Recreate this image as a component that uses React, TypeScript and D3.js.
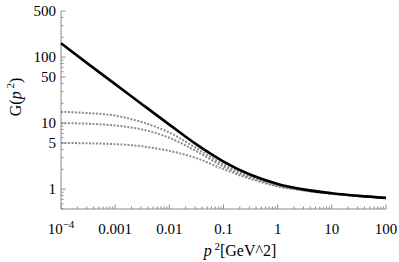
import React from "react";
import * as d3 from "d3";

const logP = [-4, -3.5, -3, -2.5, -2, -1.5, -1, -0.5, 0, 0.5, 1, 1.5, 2];
const gBlack = [162, 79, 39, 19.2, 9.5, 4.76, 2.62, 1.65, 1.2, 0.984, 0.867, 0.79, 0.738];
const gDot15 = [14.8, 14.2, 13.0, 10.3, 7.2, 4.17, 2.37, 1.57, 1.15, 0.966, 0.859, 0.787, 0.736];
const gDot10 = [10, 9.8, 9.2, 8.0, 6.0, 3.75, 2.2, 1.5, 1.12, 0.955, 0.855, 0.785, 0.736];
const gDot5 = [5.0, 4.95, 4.8, 4.45, 3.8, 2.95, 2.0, 1.43, 1.1, 0.944, 0.851, 0.783, 0.736];
const xTicks = [1e-4, 1e-3, 1e-2, 1e-1, 1, 10, 100];
const xTickLabels = ["10", "0.001", "0.01", "0.1", "1", "10", "100"];
const yTicks = [1, 5, 10, 50, 100, 500];
const yTickLabels = ["1", "5", "10", "50", "100", "500"];

const W = 399, H = 262;
const x = d3.scaleLog().domain([1e-4, 100]).range([61, 386]);
const y = d3.scaleLog().domain([0.5, 500]).range([209, 11]);

const line = d3
  .line<[number, number]>()
  .x((d) => x(Math.pow(10, d[0])))
  .y((d) => y(d[1]))
  .curve(d3.curveMonotoneX);

const mk = (g: number[]) => logP.map((l, i) => [l, g[i]] as [number, number]);

const axisColor = "#8a8a8a";
const serif = { fontFamily: '"Liberation Serif", "Times New Roman", "DejaVu Serif", serif' };

export default function App() {
  const xMinor: number[] = [];
  for (let e = -4; e < 2; e++) for (let k = 2; k <= 9; k++) xMinor.push(k * Math.pow(10, e));
  const yMinor: number[] = [];
  for (let e = -1; e < 3; e++)
    for (let k = 1; k <= 9; k++) {
      const v = k * Math.pow(10, e);
      if (v >= 0.5 && v <= 500 && !yTicks.includes(v)) yMinor.push(v);
    }
  return (
    <svg width={W} height={H} style={{ position: "absolute", left: 0, top: 0, background: "#fff" }}>
      <rect width={W} height={H} fill="#fff" />
      <line x1={61} x2={61} y1={y(500)} y2={209} stroke={axisColor} strokeWidth={1} />
      <line x1={61} x2={386} y1={209} y2={209} stroke={axisColor} strokeWidth={1} />
      {xTicks.map((t) => (
        <line key={"xt" + t} x1={x(t)} x2={x(t)} y1={209} y2={204.5} stroke={axisColor} />
      ))}
      {xMinor.map((t) => (
        <line key={"xm" + t} x1={x(t)} x2={x(t)} y1={209} y2={206.5} stroke={axisColor} />
      ))}
      {yTicks.map((t) => (
        <line key={"yt" + t} x1={61} x2={65.5} y1={y(t)} y2={y(t)} stroke={axisColor} />
      ))}
      {yMinor.map((t) => (
        <line key={"ym" + t} x1={61} x2={63.5} y1={y(t)} y2={y(t)} stroke={axisColor} />
      ))}
      {xTicks.map((t, i) => (
        <text key={"xl" + t} x={x(t)} y={234} textAnchor="middle" style={serif} fontSize={15} fill="#000">
          {xTickLabels[i]}
          {i === 0 && (
            <tspan dy={-6} fontSize={11}>
              −4
            </tspan>
          )}
        </text>
      ))}
      {yTicks.map((t, i) => (
        <text key={"yl" + t} x={56} y={y(t) + 5} textAnchor="end" style={serif} fontSize={15} fill="#000">
          {yTickLabels[i]}
        </text>
      ))}
      <text transform="translate(21,97) rotate(-90)" textAnchor="middle" style={serif} fontSize={16} fill="#000">
        G(<tspan fontStyle="italic">p</tspan>
        <tspan dy={-7} fontSize={11}> 2</tspan>
        <tspan dy={7}>)</tspan>
      </text>
      <text x={240} y={256} textAnchor="middle" style={serif} fontSize={16} fill="#000">
        <tspan fontStyle="italic">p</tspan>
        <tspan dy={-6} fontSize={11}> 2</tspan>
        <tspan dy={6}>[GeV^2]</tspan>
      </text>
      {[gDot15, gDot10, gDot5].map((g, i) => (
        <path key={"d" + i} d={line(mk(g)) || ""} fill="none" stroke="#8c8c8c" strokeWidth={2} strokeDasharray="2,1.5" />
      ))}
      <path d={line(mk(gBlack)) || ""} fill="none" stroke="#000" strokeWidth={2.6} />
    </svg>
  );
}
